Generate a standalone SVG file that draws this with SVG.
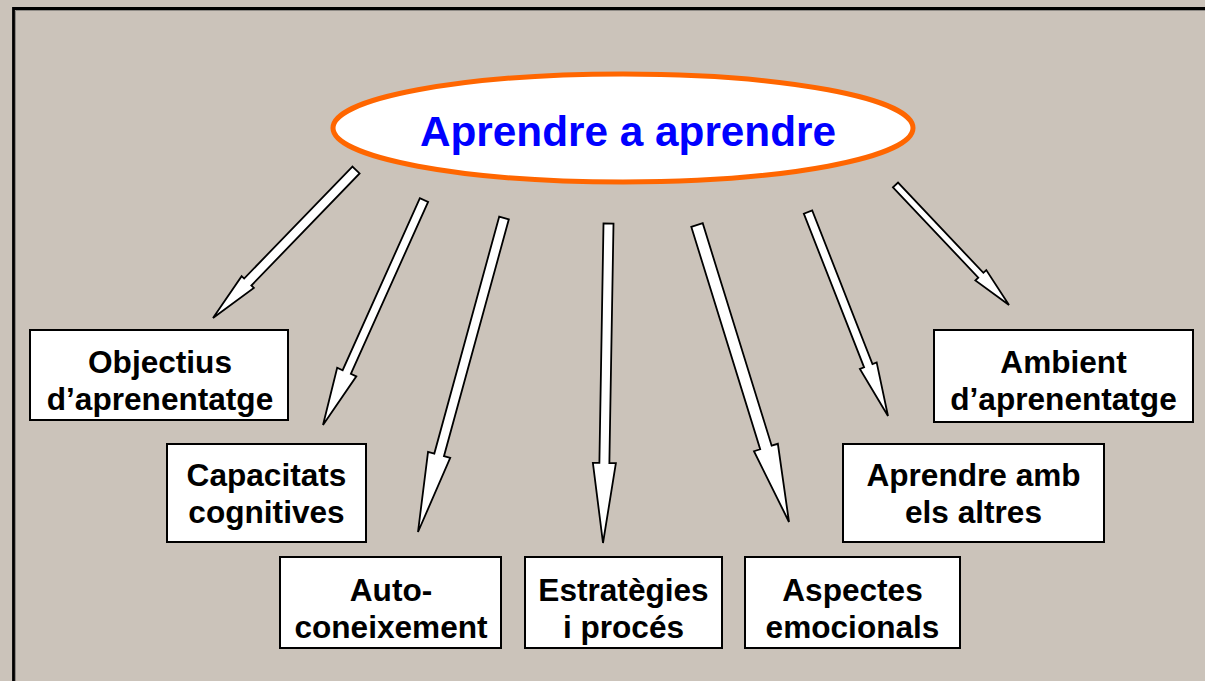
<svg xmlns="http://www.w3.org/2000/svg" width="1205" height="681" viewBox="0 0 1205 681">
<style>
.box{fill:#FFFFFF;stroke:#000000;stroke-width:2}
.lbl{font-family:"Liberation Sans",Arial,sans-serif;font-weight:bold;font-size:31.6px;fill:#000000;text-anchor:middle}
.arr{fill:#FFFFFF;stroke:#000000;stroke-width:1.8;stroke-linejoin:miter}
</style>
<rect x="0" y="0" width="1205" height="681" fill="#CBC3BA"/>
<path d="M13.5 681 V8.5 H1205" fill="none" stroke="#000000" stroke-width="2.8"/>
<path d="M15.5 681 V10.5 H1205" fill="none" stroke="#8E8A85" stroke-width="1"/>

<g id="connectors">
<polygon class="arr" points="352.4,166.53 244.14,278.57 241.63,276.13 213,318 253.85,287.95 251.34,285.51 359.6,173.47"/>
<polygon class="arr" points="419.89,198.16 342.65,370.24 337.18,367.78 323,425 356.34,376.38 350.87,373.92 428.11,201.84"/>
<polygon class="arr" points="499.18,216.68 434.31,453.53 428.04,451.81 418,532 450.22,457.89 443.95,456.17 508.82,219.32"/>
<polygon class="arr" points="603.5,223.41 599.38,462.92 592.88,462.81 603,543 615.88,463.21 609.38,463.1 613.5,223.59"/>
<polygon class="arr" points="691.27,226.78 760.19,449.27 753.98,451.19 789,522 777.86,443.79 771.65,445.71 702.73,223.22"/>
<polygon class="arr" points="803.81,213.64 864.09,367.36 859.9,369.01 888,416 876.66,362.43 872.47,364.08 812.19,210.36"/>
<polygon class="arr" points="892.96,187.4 978.29,277.62 975.38,280.37 1009,305 986.28,270.07 983.37,272.82 898.04,182.6"/>
</g>

<g id="root">
<ellipse cx="623" cy="128" rx="290" ry="54" fill="#FFFFFF" stroke="#FF6600" stroke-width="5"/>
<text x="628" y="146" font-family="'Liberation Sans',Arial,sans-serif" font-weight="bold" font-size="42.3" fill="#0000FF" text-anchor="middle">Aprendre a aprendre</text>
</g>

<g id="objectius">
<rect class="box" x="30" y="330" width="258" height="90"/>
<text class="lbl" x="160" y="373">Objectius</text>
<text class="lbl" x="160" y="410">d’aprenentatge</text>
</g>

<g id="capacitats">
<rect class="box" x="167" y="444" width="199" height="98"/>
<text class="lbl" x="266.5" y="486">Capacitats</text>
<text class="lbl" x="266.5" y="523">cognitives</text>
</g>

<g id="autoconeixement">
<rect class="box" x="280" y="557" width="221" height="91"/>
<text class="lbl" x="391" y="601">Auto-</text>
<text class="lbl" x="391" y="638">coneixement</text>
</g>

<g id="estrategies">
<rect class="box" x="525" y="557" width="197" height="91"/>
<text class="lbl" x="623.5" y="601">Estratègies</text>
<text class="lbl" x="623.5" y="638">i procés</text>
</g>

<g id="aspectes">
<rect class="box" x="745" y="557" width="215" height="91"/>
<text class="lbl" x="852.5" y="601">Aspectes</text>
<text class="lbl" x="852.5" y="638">emocionals</text>
</g>

<g id="aprendre-amb">
<rect class="box" x="843" y="444" width="261" height="98"/>
<text class="lbl" x="973.5" y="486">Aprendre amb</text>
<text class="lbl" x="973.5" y="523">els altres</text>
</g>

<g id="ambient">
<rect class="box" x="934" y="330" width="259" height="92"/>
<text class="lbl" x="1063.5" y="373">Ambient</text>
<text class="lbl" x="1063.5" y="410">d’aprenentatge</text>
</g>
</svg>
